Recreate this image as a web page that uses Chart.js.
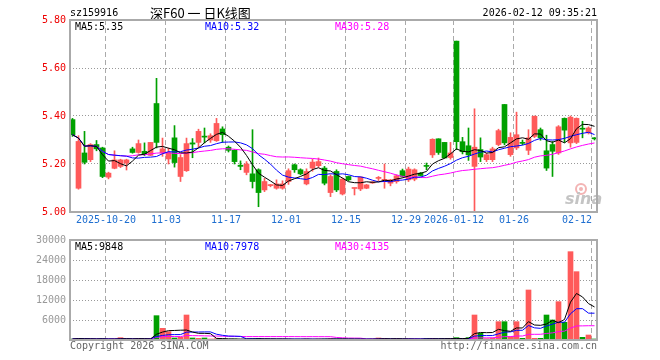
<!DOCTYPE html>
<html>
<head>
<meta charset="utf-8">
<script src="https://cdn.jsdelivr.net/npm/chart.js@4.4.1/dist/chart.umd.min.js"></script>
<style>
body { margin: 0; background: #fff; }
#wrap { position: relative; width: 660px; height: 360px; }
canvas { position: absolute; left: 0; top: 0; }
</style>
</head>
<body>
<div id="wrap">
  <canvas id="kline" width="660" height="360"></canvas>
  <canvas id="vol" width="660" height="360"></canvas>
</div>
<script>
// daily candles, oldest first (88 trading days)
const opens = [5.385,5.099,5.246,5.218,5.281,5.267,5.145,5.182,5.19,5.204,
  5.263,5.248,5.253,5.236,5.452,5.246,5.221,5.309,5.148,5.172,
  5.288,5.29,5.316,5.30,5.297,5.346,5.27,5.257,5.195,5.165,
  5.159,5.176,5.092,5.11,5.099,5.099,5.127,5.197,5.176,5.117,
  5.183,5.193,5.183,5.081,5.169,5.075,5.148,5.098,5.096,5.099,
  5.121,5.14,5.132,5.12,5.127,5.172,5.134,5.137,5.162,5.192,
  5.238,5.305,5.29,5.227,5.712,5.293,5.276,5.19,5.26,5.218,
  5.218,5.281,5.448,5.239,5.267,5.29,5.257,5.315,5.343,5.255,
  5.281,5.246,5.39,5.288,5.29,5.348,5.33,5.308];
const highs = [5.39,5.318,5.336,5.285,5.298,5.27,5.166,5.255,5.22,5.22,
  5.27,5.30,5.288,5.29,5.557,5.308,5.266,5.36,5.239,5.308,
  5.306,5.345,5.35,5.326,5.39,5.355,5.275,5.26,5.213,5.21,
  5.343,5.18,5.14,5.115,5.134,5.13,5.18,5.20,5.18,5.18,
  5.22,5.225,5.19,5.155,5.176,5.141,5.15,5.10,5.146,5.115,
  5.127,5.148,5.20,5.136,5.155,5.179,5.187,5.18,5.165,5.204,
  5.305,5.305,5.29,5.29,5.712,5.311,5.35,5.43,5.309,5.245,
  5.27,5.345,5.448,5.33,5.416,5.30,5.343,5.40,5.35,5.32,
  5.294,5.36,5.392,5.40,5.392,5.378,5.355,5.31];
const lows = [5.315,5.095,5.20,5.21,5.255,5.143,5.138,5.18,5.185,5.175,
  5.245,5.245,5.235,5.235,5.267,5.232,5.20,5.187,5.127,5.169,
  5.226,5.27,5.288,5.29,5.294,5.29,5.25,5.20,5.176,5.155,
  5.10,5.022,5.085,5.105,5.095,5.095,5.115,5.165,5.155,5.113,
  5.17,5.187,5.113,5.064,5.085,5.071,5.13,5.071,5.089,5.097,
  5.119,5.131,5.099,5.109,5.12,5.145,5.127,5.13,5.15,5.176,
  5.227,5.24,5.225,5.22,5.26,5.242,5.215,5.00,5.21,5.21,
  5.21,5.276,5.28,5.232,5.26,5.28,5.239,5.31,5.299,5.173,
  5.148,5.24,5.29,5.27,5.285,5.309,5.325,5.30];
const closes = [5.322,5.294,5.207,5.281,5.263,5.148,5.162,5.217,5.217,5.217,
  5.248,5.285,5.239,5.29,5.29,5.263,5.248,5.206,5.227,5.285,
  5.283,5.336,5.312,5.318,5.369,5.322,5.257,5.21,5.19,5.20,
  5.127,5.081,5.127,5.112,5.117,5.117,5.172,5.176,5.159,5.169,
  5.208,5.21,5.12,5.148,5.092,5.137,5.134,5.10,5.146,5.113,
  5.125,5.142,5.136,5.134,5.151,5.148,5.179,5.176,5.152,5.19,
  5.303,5.248,5.225,5.246,5.293,5.251,5.238,5.27,5.229,5.239,
  5.263,5.339,5.288,5.311,5.322,5.286,5.309,5.399,5.309,5.183,
  5.253,5.355,5.341,5.395,5.39,5.345,5.35,5.305];
const volumes = [300,500,300,300,200,400,200,300,700,300,
  200,400,300,400,7300,3500,2500,600,800,7500,
  600,500,600,300,400,300,200,300,200,300,
  400,500,300,200,200,300,300,200,200,300,
  200,300,300,400,300,300,200,200,300,200,
  300,600,500,200,300,200,300,300,200,500,
  500,300,400,300,700,400,700,7500,2000,400,
  600,5500,5500,1000,5500,500,15000,500,500,7500,
  6000,11500,5300,26500,20500,800,1500,300];

const tickIdx = [6, 16, 26, 36, 46, 56, 64, 74, 87];
const tickText = ['2025-10-20','11-03','11-17','12-01','12-15','12-29','2026-01-12','01-26','02-12'];
const priceTicks = [5.0, 5.2, 5.4, 5.6, 5.8];
const volTicks = [0, 6000, 12000, 18000, 24000, 30000];
const maLabels = ['MA5:5.35', 'MA10:5.32', 'MA30:5.28'];
const volMaLabels = ['MA5:9848', 'MA10:7978', 'MA30:4135'];

const RED = '#ff5a5a', GREEN = '#00a000';
const MA_COLORS = ['#000000', '#0000ff', '#ff00ff'];
const FONT = '10px "DejaVu Sans Mono"';
const X_MIN = -5 / 12, X_MAX = X_MIN + 527 / 6;

const idx = closes.map((c, i) => i);
const upColor = i => closes[i] >= opens[i] ? RED : GREEN;

function movingAvg(arr, n) {
  return arr.map((v, i) => {
    const s = arr.slice(Math.max(0, i - n + 1), i + 1);
    return s.reduce((a, b) => a + b, 0) / s.length;
  });
}

function txt(ctx, s, x, y, color, align, font) {
  ctx.save();
  ctx.font = font || FONT;
  ctx.fillStyle = color;
  ctx.textAlign = align || 'left';
  ctx.textBaseline = 'middle';
  ctx.fillText(s, x, y);
  ctx.restore();
}

const framePlugin = {
  id: 'frame',
  afterDraw(chart) {
    const a = chart.chartArea, c = chart.ctx;
    c.save();
    c.strokeStyle = '#aaa';
    c.lineWidth = 2;
    c.strokeRect(a.left, a.top, a.right - a.left, a.bottom - a.top);
    c.restore();
  }
};

const headerPlugin = {
  id: 'header',
  beforeDatasetsDraw(chart) {
    // sina watermark
    const c = chart.ctx;
    c.save();
    c.strokeStyle = '#f3b4b4';
    c.lineWidth = 2;
    c.beginPath(); c.arc(581, 189, 5, 0, Math.PI * 2); c.stroke();
    c.fillStyle = '#f3b4b4';
    c.beginPath(); c.arc(581, 189, 2, 0, Math.PI * 2); c.fill();
    c.restore();
    txt(c, 'sina', 565, 200, '#c4c4c4', 'left', 'italic bold 16px "DejaVu Sans"');
  },
  afterDraw(chart) {
    const c = chart.ctx;
    txt(c, 'sz159916', 70, 13, '#000');
    txt(c, '深F60 一 日K线图', 150, 13, '#000', 'left', '13px "Noto Sans CJK SC"');
    txt(c, '2026-02-12 09:35:21', 597, 13, '#000', 'right');
    [75, 205, 335].forEach((x, k) => txt(c, maLabels[k], x, 27, MA_COLORS[k]));
  }
};

const volTextPlugin = {
  id: 'voltext',
  afterDraw(chart) {
    const c = chart.ctx;
    [75, 205, 335].forEach((x, k) => txt(c, volMaLabels[k], x, 247, MA_COLORS[k]));
    txt(c, 'Copyright 2026 SINA.COM', 70, 346, '#666');
    txt(c, 'http://finance.sina.com.cn', 597, 346, '#666', 'right');
  }
};

function xScale(showLabels) {
  return {
    type: 'linear', min: X_MIN, max: X_MAX, offset: false,
    afterBuildTicks: s => { s.ticks = tickIdx.map(i => ({ value: i - 0.42 })); },
    grid: { color: '#aaa', lineWidth: 1, drawTicks: false, offset: false },
    border: { display: false, dash: [5, 3] },
    ticks: {
      display: showLabels, autoSkip: false, maxRotation: 0, padding: 2,
      color: '#1f6fd0', font: { family: 'DejaVu Sans Mono', size: 10 },
      callback: (v, k) => k === tickText.length - 1 ? tickText[k] + '     ' : tickText[k]
    },
    afterFit: s => { s.height = showLabels ? 16 : 0; }
  };
}

function lineSet(data, color) {
  return {
    type: 'line', data: idx.map(i => ({ x: i, y: data[i] })),
    borderColor: color, borderWidth: 1, pointRadius: 0, tension: 0, order: 0
  };
}

const ma5 = movingAvg(closes, 5), ma10 = movingAvg(closes, 10), ma30 = movingAvg(closes, 30);

new Chart(document.getElementById('kline'), {
  type: 'bar',
  data: {
    datasets: [
      lineSet(ma5, MA_COLORS[0]),
      lineSet(ma10, MA_COLORS[1]),
      lineSet(ma30, MA_COLORS[2]),
      {
        data: idx.map(i => ({ x: i, y: [opens[i], closes[i]] })),
        backgroundColor: idx.map(upColor),
        barThickness: 5, minBarLength: 1, grouped: false, order: 1
      },
      {
        data: idx.map(i => ({ x: i, y: [lows[i], highs[i]] })),
        backgroundColor: idx.map(upColor),
        barThickness: 1, minBarLength: 1, grouped: false, order: 2
      }
    ]
  },
  options: {
    responsive: false, animation: false, devicePixelRatio: 1,
    layout: { padding: { left: 0, right: 63, top: 20, bottom: 132 } },
    plugins: { legend: { display: false }, tooltip: { enabled: false } },
    scales: {
      x: xScale(true),
      y: {
        min: 5.0, max: 5.8,
        afterBuildTicks: s => { s.ticks = priceTicks.map(v => ({ value: v })); },
        grid: {
          color: c => (c.tick && (c.tick.value === 5.0 || c.tick.value === 5.8)) ? 'rgba(0,0,0,0)' : '#999',
          drawTicks: false
        },
        border: { display: false, dash: [1, 2] },
        ticks: { color: '#ee0000', padding: 4, font: { family: 'DejaVu Sans Mono', size: 10 },
          callback: v => v.toFixed(2) },
        afterFit: s => { s.width = 70; }
      }
    }
  },
  plugins: [headerPlugin, framePlugin]
});

const vma5 = movingAvg(volumes, 5), vma10 = movingAvg(volumes, 10), vma30 = movingAvg(volumes, 30);

new Chart(document.getElementById('vol'), {
  type: 'bar',
  data: {
    datasets: [
      lineSet(vma5, MA_COLORS[0]),
      lineSet(vma10, MA_COLORS[1]),
      lineSet(vma30, MA_COLORS[2]),
      {
        data: idx.map(i => ({ x: i, y: volumes[i] })),
        backgroundColor: idx.map(upColor),
        barThickness: 5, grouped: false, order: 1
      }
    ]
  },
  options: {
    responsive: false, animation: false, devicePixelRatio: 1,
    layout: { padding: { left: 0, right: 63, top: 240, bottom: 20 } },
    plugins: { legend: { display: false }, tooltip: { enabled: false } },
    scales: {
      x: xScale(false),
      y: {
        min: 0, max: 30000,
        afterBuildTicks: s => { s.ticks = volTicks.map(v => ({ value: v })); },
        grid: {
          color: c => (c.tick && (c.tick.value === 0 || c.tick.value === 30000)) ? 'rgba(0,0,0,0)' : '#999',
          drawTicks: false
        },
        border: { display: false, dash: [1, 2] },
        ticks: { color: '#999', padding: 4, font: { family: 'DejaVu Sans Mono', size: 10 },
          callback: v => v === 0 ? '' : String(v) },
        afterFit: s => { s.width = 70; }
      }
    }
  },
  plugins: [volTextPlugin, framePlugin]
});
</script>
</body>
</html>
